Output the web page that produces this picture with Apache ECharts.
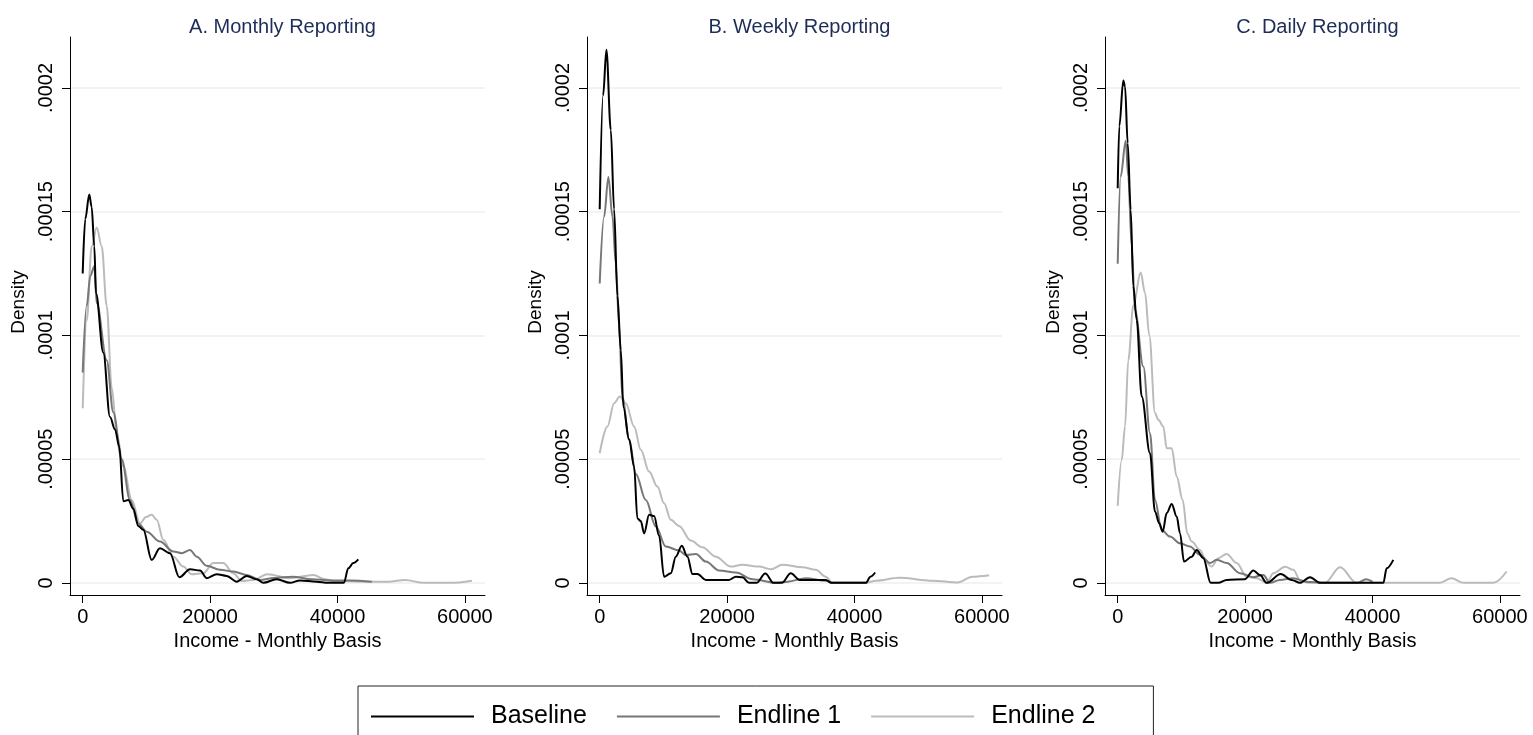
<!DOCTYPE html>
<html>
<head>
<meta charset="utf-8">
<script src="https://cdn.jsdelivr.net/npm/echarts@6/dist/echarts.min.js"></script>
<style>
html,body{margin:0;padding:0;background:#fff;}
#chart{width:1533px;height:735px;}
</style>
</head>
<body>
<div id="chart"></div>
<script>
// ---- Data (income, density) ----
const panelTitles = ['A. Monthly Reporting', 'B. Weekly Reporting', 'C. Daily Reporting'];
const seriesNames = ['Baseline', 'Endline 1', 'Endline 2'];
const xTickValues = [0, 20000, 40000, 60000];
const xTickLabels = ['0', '20000', '40000', '60000'];
const yTickValues = [0, 0.00005, 0.0001, 0.00015, 0.0002];
const yTickLabels = ['0', '.00005', '.0001', '.00015', '.0002'];

const monthlyBaseline = [[0,1.25e-4],[400,1.47e-4],[1036,1.57e-4],[1400,1.52e-4],[1822,1.36e-4],[2088,1.17e-4],[3237,9.3e-5],[4286,6.7e-5],[5071,6.2e-5],[5746,5.5e-5],[6380,3.3e-5],[7160,3.35e-5],[7946,3.0e-5],[8730,2.3e-5],[9513,2.15e-5],[10830,9.3e-6],[12130,1.4e-5],[13700,1.2e-5],[15170,2.3e-6],[16850,5.5e-6],[18420,5e-6],[19470,1.9e-6],[21040,3.5e-6],[22600,2.8e-6],[24180,5e-7],[25750,2.8e-6],[27320,1.5e-6],[28350,0],[30450,1.5e-6],[32540,0],[34110,1e-6],[36730,5e-7],[38500,0],[41000,0],[41700,5.9e-6],[42480,8e-6],[43270,9.5e-6]];
const monthlyEndline1 = [[0,8.5e-5],[628,1.12e-4],[1200,1.24e-4],[1822,1.28e-4],[2198,1.13e-4],[3768,9.0e-5],[4803,6.9e-5],[6122,5.0e-5],[7425,3.35e-5],[8730,2.4e-5],[10050,2.07e-5],[12130,1.67e-5],[14220,1.27e-5],[15540,1.2e-5],[16850,1.33e-5],[17900,1.06e-5],[19470,6.9e-6],[21550,5.3e-6],[23640,4.6e-6],[25750,3.2e-6],[27840,1.2e-6],[30000,2e-6],[33000,2.5e-6],[36000,1.5e-6],[39000,1e-6],[42000,1e-6],[45400,5e-7]];
const monthlyEndline2 = [[0,7.06e-5],[628,1.06e-4],[1413,1.36e-4],[2198,1.436e-4],[2983,1.36e-4],[3768,1.12e-4],[4553,7.9e-5],[5338,6.05e-5],[6380,4.7e-5],[7700,3.35e-5],[9000,2.4e-5],[9940,2.66e-5],[10830,2.75e-5],[11620,2.55e-5],[12650,1.74e-5],[14220,1.06e-5],[15790,6.6e-6],[17110,3.5e-6],[18930,3.9e-6],[20500,8e-6],[22070,8e-6],[23640,3.9e-6],[24960,8e-7],[26780,1.2e-6],[29000,3.5e-6],[32540,1.9e-6],[36200,3.2e-6],[38040,1.5e-6],[39340,8e-7],[44580,5e-7],[48000,5e-7],[50600,1.2e-6],[53500,0],[57660,0],[61100,9e-7]];

const weeklyBaseline = [[0,1.51e-4],[534,1.97e-4],[1052,2.154e-4],[1743,1.83e-4],[2260,1.51e-4],[2780,1.16e-4],[3310,9.4e-5],[3720,7.1e-5],[4615,5.8e-5],[5400,4.7e-5],[5920,2.6e-5],[6450,2.5e-5],[6970,2.0e-5],[7755,2.75e-5],[8540,2.7e-5],[9325,1.9e-5],[10110,2.5e-6],[11160,3.9e-6],[11950,1.06e-5],[12890,1.5e-5],[13770,1.06e-5],[14560,3.6e-6],[15340,3.6e-6],[16660,1.2e-6],[20320,1.2e-6],[21370,2.5e-6],[22410,2.3e-6],[23460,0],[24600,0],[26000,3.8e-6],[27300,0],[28600,0],[30000,3.9e-6],[31400,1.2e-6],[35500,1.2e-6],[36400,0],[41800,0],[42500,2.5e-6],[43240,4.2e-6]];
const weeklyEndline1 = [[0,1.21e-4],[690,1.48e-4],[1366,1.64e-4],[2000,1.48e-4],[2530,1.29e-4],[3045,1.04e-4],[3560,7.5e-5],[4615,5.8e-5],[5670,4.4e-5],[7240,3.35e-5],[8810,2.28e-5],[10380,1.47e-5],[12460,1.31e-5],[13520,1.13e-5],[15090,1.17e-5],[16660,8.6e-6],[18740,5e-6],[21370,4.2e-6],[23980,1.5e-6],[27640,0],[29500,5e-7],[32370,1.9e-6],[35500,9e-7],[36500,0],[41800,0]];
const weeklyEndline2 = [[0,5.24e-5],[1210,6.32e-5],[2260,7.26e-5],[3150,7.53e-5],[4100,7.26e-5],[5400,6.32e-5],[6450,5.38e-5],[7755,4.5e-5],[9060,3.89e-5],[10110,3.22e-5],[11160,2.55e-5],[12460,2.3e-5],[14300,1.71e-5],[16130,1.44e-5],[18220,1.06e-5],[20580,6.6e-6],[22410,7.3e-6],[25020,6.6e-6],[26860,5.5e-6],[28690,7.3e-6],[31830,6.3e-6],[33920,5.3e-6],[35500,2.5e-6],[36540,0],[41780,0],[43350,9e-7],[47000,2.1e-6],[52240,9e-7],[56170,2e-7],[58520,2.5e-6],[61140,3.1e-6]];

const dailyBaseline = [[0,1.595e-4],[250,1.845e-4],[880,2.03e-4],[1150,2.006e-4],[1570,1.777e-4],[2040,1.508e-4],[2450,1.2e-4],[2980,1.063e-4],[3770,7.53e-5],[5070,5.24e-5],[5855,2.88e-5],[6530,2.41e-5],[7065,2.07e-5],[7690,2.82e-5],[8480,3.19e-5],[9260,2.68e-5],[9780,2.01e-5],[10410,8.6e-6],[11620,1.06e-5],[12400,1.33e-5],[13440,1.0e-5],[14600,0],[15800,0],[17110,1.2e-6],[19980,1.5e-6],[21290,5e-6],[22340,3.2e-6],[23390,0],[25600,3.6e-6],[27310,1.2e-6],[28620,0],[30190,2.3e-6],[31760,0],[41700,0],[42230,5.9e-6],[43270,9.3e-6]];
const dailyEndline1 = [[0,1.29e-4],[470,1.642e-4],[1256,1.787e-4],[1660,1.642e-4],[2200,1.36e-4],[2720,1.103e-4],[4020,8.74e-5],[5070,6.05e-5],[5855,3.35e-5],[6900,2.14e-5],[8210,1.87e-5],[9780,1.6e-5],[11350,1.47e-5],[12920,1.13e-5],[14490,8e-6],[15540,9.3e-6],[17110,8e-6],[19200,3.9e-6],[21290,2.3e-6],[22860,3.2e-6],[23910,0],[25480,1.2e-6],[27570,1.9e-6],[29500,5e-7],[32700,0],[37600,0],[39000,1.5e-6],[40000,5e-7]];
const dailyEndline2 = [[0,3.11e-5],[630,4.97e-5],[1150,6.32e-5],[1660,9.0e-5],[2450,1.12e-4],[3610,1.254e-4],[4290,1.171e-4],[4960,1.0e-4],[5855,6.86e-5],[6380,6.59e-5],[7160,6.32e-5],[7690,5.44e-5],[8480,5.44e-5],[9260,4.3e-5],[10200,3.35e-5],[10930,2.0e-5],[11620,1.67e-5],[12920,1.33e-5],[13970,8e-6],[14750,6.6e-6],[15800,1.0e-5],[17110,1.17e-5],[18680,8e-6],[20250,2.5e-6],[21820,1.9e-6],[23390,0],[24440,3.9e-6],[26300,6.5e-6],[27570,5.3e-6],[28620,1.2e-6],[30000,0],[32550,0],[34900,6.3e-6],[37520,0],[50500,0],[52400,1.9e-6],[54300,0],[58970,0],[61070,4.6e-6]];

const panelData = [
  [monthlyBaseline, monthlyEndline1, monthlyEndline2],
  [weeklyBaseline, weeklyEndline1, weeklyEndline2],
  [dailyBaseline, dailyEndline1, dailyEndline2]
];

// ---- Styling / layout ----
const FONT = '"Liberation Sans", Arial, Helvetica, sans-serif';
const lineColors = ['#000000', '#777777', '#bbbbbb'];
const gridLefts = [70, 587, 1105];
const gridWidth = 415;
const gridTop = 37;
const gridHeight = 558;

const chart = echarts.init(document.getElementById('chart'), null, {renderer: 'canvas'});

const grids = [], xAxes = [], yAxes = [], titles = [], series = [];
gridLefts.forEach((left, i) => {
  grids.push({left: left, top: gridTop, width: gridWidth, height: gridHeight, containLabel: false});
  titles.push({
    text: panelTitles[i], left: left + gridWidth / 2, top: 12, textAlign: 'center',
    textStyle: {fontFamily: FONT, fontSize: 20, fontWeight: 'normal', color: '#1e2d58'}
  });
  xAxes.push({
    type: 'value', gridIndex: i, min: -1994, max: 63160,
    name: 'Income - Monthly Basis', nameLocation: 'middle', nameGap: 36,
    nameTextStyle: {fontFamily: FONT, fontSize: 20, color: '#000'},
    axisLine: {show: true, onZero: false, lineStyle: {color: '#000', width: 1}},
    axisTick: {show: true, length: 8, inside: false, customValues: xTickValues, lineStyle: {color: '#000'}},
    axisLabel: {show: true, margin: 12, customValues: xTickValues, fontFamily: FONT, fontSize: 20, color: '#000',
      formatter: v => { const k = xTickValues.indexOf(v); return k >= 0 ? xTickLabels[k] : ''; }},
    splitLine: {show: false}
  });
  yAxes.push({
    type: 'value', gridIndex: i, min: -0.0000049, max: 0.0002206,
    name: 'Density', nameLocation: 'middle', nameGap: 42, nameRotate: 90,
    nameTextStyle: {fontFamily: FONT, fontSize: 19, color: '#000', padding: [0, 0, 0, 28]},
    axisLine: {show: true, onZero: false, lineStyle: {color: '#000', width: 1}},
    axisTick: {show: true, length: 8, inside: false, customValues: yTickValues, lineStyle: {color: '#000'}},
    axisLabel: {show: true, rotate: 90, margin: 14, customValues: yTickValues, fontFamily: FONT, fontSize: 20, color: '#000',
      formatter: v => { let k = -1; yTickValues.forEach((t, j) => { if (Math.abs(t - v) < 1e-9) k = j; }); return k >= 0 ? yTickLabels[k] : ''; }},
    splitLine: {show: true, lineStyle: {color: '#eaf1f2', width: 1.5}}
  });
  panelData[i].forEach((d, s) => {
    series.push({
      name: seriesNames[s], type: 'line', xAxisIndex: i, yAxisIndex: i,
      data: d, showSymbol: false, symbol: 'none',
      smooth: 0.35, smoothMonotone: 'x',
      lineStyle: {color: lineColors[s], width: 2},
      itemStyle: {color: lineColors[s]},
      z: 10 - s, animation: false
    });
  });
});

chart.setOption({
  backgroundColor: '#ffffff',
  animation: false,
  title: titles,
  grid: grids,
  xAxis: xAxes,
  yAxis: yAxes,
  legend: {
    data: seriesNames,
    left: 358, top: 686,
    orient: 'horizontal',
    icon: 'rect', itemWidth: 103, itemHeight: 2, itemGap: 30,
    padding: [18, 58, 30, 13],
    borderColor: '#222', borderWidth: 1,
    textStyle: {fontFamily: FONT, fontSize: 25, color: '#000', padding: [0, 0, 0, 12]},
    selectedMode: false
  },
  series: series
});
</script>
</body>
</html>
